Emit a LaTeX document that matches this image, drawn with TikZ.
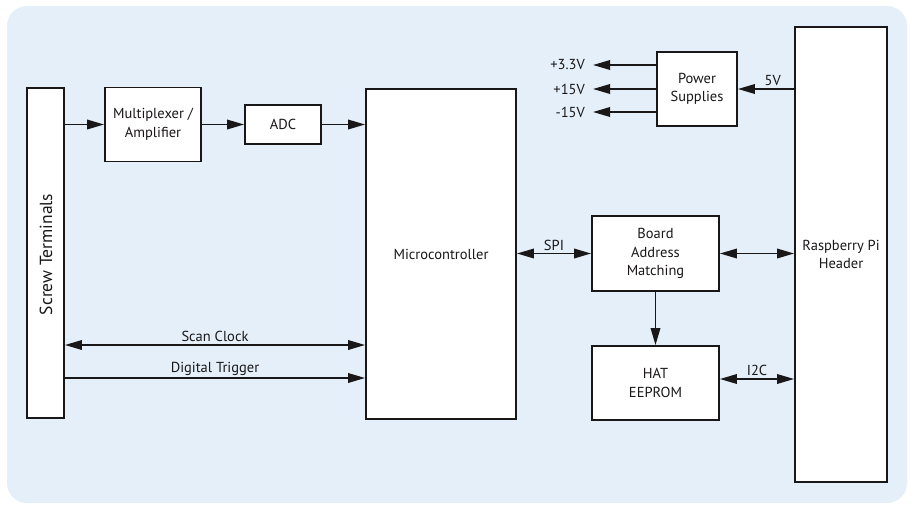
\documentclass[tikz,border=0pt]{standalone}
\usepackage{fontspec}
\setmainfont{PT Sans}
\usetikzlibrary{arrows.meta}
\definecolor{panel}{HTML}{E4EFF9}
\definecolor{ink}{HTML}{1A1718}

\begin{document}
\begin{tikzpicture}[x=1pt,y=-1pt,
	block/.style={draw=ink,fill=white,line width=1.8pt,align=center,text=ink,inner sep=0pt,font=\fontsize{14.5}{18.5}\selectfont},
	tag/.style={text=ink,inner sep=2pt,font=\fontsize{14.5}{18.5}\selectfont},
	wire/.style={draw=ink,line width=1.8pt,-{Triangle[length=17pt,width=9.5pt]}},
	bus/.style={wire,{Triangle[length=17pt,width=9.5pt]}-{Triangle[length=17pt,width=9.5pt]}}]
\useasboundingbox (0,0) rectangle (915,509);
\fill[panel,rounded corners=20pt] (7,6) rectangle (907,503);
% blocks
\node[block,minimum width=37,minimum height=330] (screw) at (45.5,253) {};
\node[tag,rotate=90,font=\fontsize{17.5}{20}\selectfont] (screwlbl) at (46,254.5) {Screw Terminals};
\node[block,minimum width=96,minimum height=74] (mux) at (153,124.5) {Multiplexer /\\Amplifier};
\node[block,minimum width=76,minimum height=39] (adc) at (283,124.5) {ADC};
\node[block,minimum width=150,minimum height=330] (micro) at (441,254) {Microcontroller};
\node[block,minimum width=80,minimum height=74] (power) at (697,89) {Power\\Supplies};
\node[block,minimum width=92,minimum height=455] (rpi) at (841,254.5) {Raspberry Pi\\Header};
\node[block,minimum width=127,minimum height=75] (board) at (655.5,253.5) {Board\\Address\\Matching};
\node[block,minimum width=127,minimum height=74] (hat) at (655.5,383) {HAT\\EEPROM};
% signal chain
\draw[wire] (screw.east |- mux.west) -- (mux.west);
\draw[wire] (mux.east) -- (adc.west);
\draw[wire] (adc.east) -- (micro.west |- adc.east);
\coordinate (sc) at (0,345);
\coordinate (dt) at (0,378);
\draw[bus] (screw.east |- sc) -- node[tag,above] {Scan Clock} (micro.west |- sc);
\draw[wire] (screw.east |- dt) -- node[tag,above] {Digital Trigger} (micro.west |- dt);
% supplies
\foreach \v/\y in {+3.3V/65,+15V/89,-15V/112} {
	\node[tag,anchor=east,inner xsep=8pt] (out\y) at (593,\y) {\v};
	\draw[wire] (power.west |- out\y) -- (out\y.east);
}
\draw[wire] (rpi.west |- power.east) -- node[tag,above,pos=0.38] {5V} (power.east);
% interfaces
\coordinate (i2c) at (0,379);
\draw[bus] (micro.east |- board.west) -- node[tag,above] {SPI} (board.west);
\draw[bus] (board.east) -- (rpi.west |- board.east);
\draw[wire] (board.south) -- (hat.north);
\draw[bus] (hat.east |- i2c) -- node[tag,above] {I2C} (rpi.west |- i2c);
\end{tikzpicture}
\end{document}
